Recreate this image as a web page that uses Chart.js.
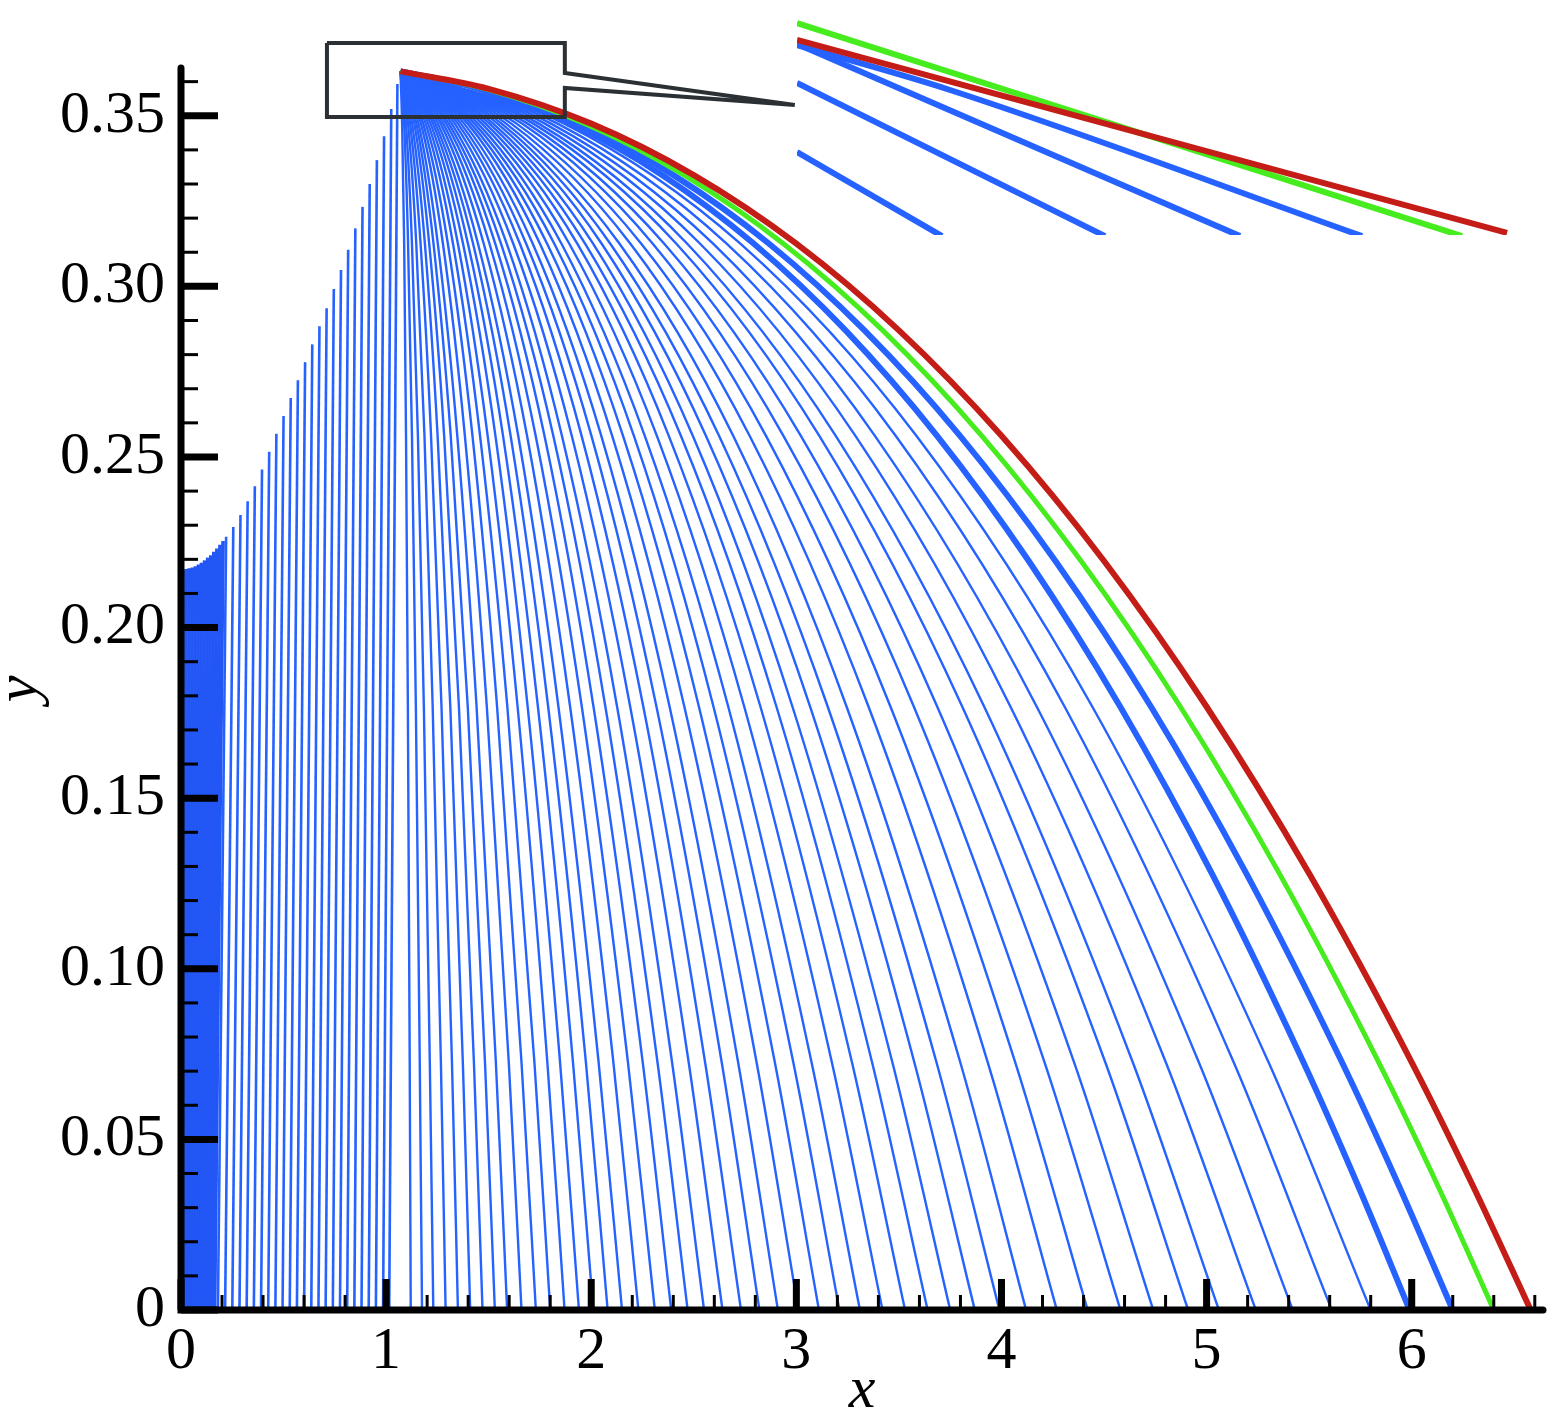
<!DOCTYPE html>
<html><head><meta charset="utf-8">
<script src="https://cdn.jsdelivr.net/npm/chart.js@4/dist/chart.umd.min.js"></script>
<style>
html,body{margin:0;padding:0;background:#fff;}
#wrap{position:relative;width:1559px;height:1417px;background:#fff;}
#main{position:absolute;left:0;top:0;width:1559px;height:1417px;}
#inset{position:absolute;left:792px;top:10px;width:730px;height:227px;}
</style></head><body>
<div id="wrap"><canvas id="main" width="1559" height="1417"></canvas><canvas id="inset" width="730" height="227"></canvas></div>
<script>
// ---------- axis ticks ----------
const xTicks = [0,1,2,3,4,5,6];
const yTicks = [0,0.05,0.10,0.15,0.20,0.25,0.30,0.35];
const xMinorTicks = [0.2,0.4,0.6,0.8,1.2,1.4,1.6,1.8,2.2,2.4,2.6,2.8,3.2,3.4,3.6,3.8,4.2,4.4,4.6,4.8,5.2,5.4,5.6,5.8,6.2,6.4,6.6];
const yMinorTicks = [0.01,0.02,0.03,0.04,0.06,0.07,0.08,0.09,0.11,0.12,0.13,0.14,0.16,0.17,0.18,0.19,0.21,0.22,0.23,0.24,0.26,0.27,0.28,0.29,0.31,0.32,0.33,0.34,0.36];

// ---------- left family (start on upper envelope, end on y = 0) ----------
const denseStartX = [0.01,0.025,0.04,0.055,0.07,0.085,0.10,0.115,0.13,0.145,0.16,0.175,0.19,0.205];
const denseStartY = [0.217,0.2172,0.2174,0.2176,0.218,0.2185,0.219,0.2197,0.2205,0.2212,0.2222,0.2232,0.2243,0.2254];
const denseEndX   = [0.008,0.02,0.032,0.044,0.056,0.068,0.08,0.092,0.104,0.116,0.128,0.14,0.152,0.164];

const leftStartX = [0.22,0.255,0.29,0.325,0.36,0.395,0.43,0.465,0.50,0.535,0.57,0.605,0.64,0.675,0.71,0.745,0.78,0.815,0.85,0.885,0.92,0.955,0.99,1.025,1.055];
const leftStartY = [0.2266,0.2295,0.233,0.237,0.2414,0.2463,0.2515,0.2568,0.262,0.2673,0.2725,0.2778,0.283,0.2883,0.2936,0.2992,0.3048,0.3107,0.317,0.3233,0.33,0.337,0.344,0.352,0.3593];
const leftEndX   = [0.18,0.215,0.25,0.285,0.32,0.355,0.39,0.425,0.46,0.495,0.53,0.565,0.60,0.635,0.67,0.705,0.74,0.775,0.81,0.845,0.88,0.915,0.95,0.985,1.015];

// ---------- fan family from the apex (x values at shared y levels) ----------
const fanLevelsY = [0.363,0.3477,0.3125,0.2562,0.1768,0.0726,0];
const fanThinX = [
[1.07,1.078,1.088,1.097,1.106,1.115,1.12],
[1.07,1.088,1.107,1.126,1.145,1.164,1.175],
[1.07,1.097,1.126,1.155,1.184,1.213,1.23],
[1.07,1.107,1.147,1.187,1.227,1.267,1.29],
[1.07,1.117,1.168,1.219,1.270,1.321,1.35],
[1.07,1.127,1.189,1.251,1.313,1.374,1.41],
[1.07,1.138,1.210,1.283,1.355,1.428,1.47],
[1.07,1.148,1.231,1.315,1.398,1.482,1.53],
[1.07,1.158,1.252,1.347,1.441,1.535,1.59],
[1.07,1.170,1.277,1.384,1.491,1.598,1.66],
[1.07,1.181,1.301,1.421,1.541,1.660,1.73],
[1.07,1.193,1.326,1.458,1.591,1.723,1.80],
[1.07,1.205,1.350,1.495,1.641,1.786,1.87],
[1.07,1.217,1.375,1.533,1.690,1.848,1.94],
[1.07,1.229,1.399,1.570,1.740,1.911,2.01],
[1.07,1.240,1.424,1.607,1.790,1.974,2.08],
[1.07,1.252,1.448,1.644,1.840,2.036,2.15],
[1.07,1.266,1.476,1.687,1.897,2.108,2.23],
[1.07,1.279,1.504,1.729,1.954,2.179,2.31],
[1.07,1.293,1.532,1.772,2.011,2.251,2.39],
[1.07,1.306,1.560,1.815,2.069,2.323,2.47],
[1.07,1.320,1.588,1.857,2.126,2.394,2.55],
[1.07,1.335,1.620,1.905,2.190,2.475,2.64],
[1.07,1.350,1.652,1.953,2.254,2.555,2.73],
[1.07,1.365,1.683,2.001,2.318,2.636,2.82],
[1.07,1.381,1.715,2.049,2.382,2.716,2.91],
[1.07,1.398,1.750,2.102,2.454,2.806,3.01],
[1.07,1.414,1.785,2.155,2.525,2.895,3.11],
[1.07,1.431,1.820,2.208,2.596,2.985,3.21],
[1.07,1.448,1.855,2.261,2.668,3.074,3.31],
[1.07,1.467,1.893,2.320,2.746,3.173,3.42],
[1.07,1.485,1.932,2.378,2.825,3.271,3.53],
[1.07,1.504,1.970,2.437,2.903,3.369,3.64],
[1.07,1.522,2.009,2.495,2.981,3.468,3.75],
[1.07,1.543,2.051,2.559,3.067,3.575,3.87],
[1.07,1.563,2.093,2.623,3.153,3.683,3.99],
[1.07,1.585,2.138,2.692,3.245,3.799,4.12],
[1.07,1.610,2.191,2.772,3.352,3.933,4.27],
[1.07,1.636,2.244,2.852,3.459,4.067,4.42],
[1.07,1.663,2.300,2.937,3.573,4.210,4.58],
[1.07,1.690,2.356,3.022,3.687,4.354,4.74],
[1.07,1.718,2.415,3.112,3.809,4.506,4.91],
[1.07,1.744,2.468,3.192,3.916,4.640,5.06],
[1.07,1.774,2.531,3.288,4.044,4.801,5.24],
[1.07,1.804,2.594,3.383,4.172,4.962,5.42],
[1.07,1.836,2.660,3.484,4.308,5.132,5.61],
[1.07,1.868,2.727,3.585,4.443,5.302,5.80]
];

// ---------- highlighted curves ----------
const specialY    = [0.363,0.3579,0.3477,0.3326,0.3125,0.2871,0.2562,0.2195,0.1768,0.1279,0.0726,0.0362,0];
const redX        = [1.07,1.50,2.00,2.50,3.00,3.50,4.00,4.50,5.00,5.50,6.00,6.30,6.58];
const greenX      = [1.07,1.486,1.970,2.453,2.937,3.421,3.904,4.388,4.872,5.355,5.839,6.129,6.40];
const blueThickAX = [1.07,1.470,1.936,2.401,2.867,3.332,3.798,4.263,4.729,5.194,5.660,5.939,6.20];
const blueThickBX = [1.07,1.454,1.900,2.347,2.793,3.240,3.686,4.133,4.579,5.026,5.472,5.740,5.99];

// ---------- zoom box with callout ----------
const zoomBoxX = [0.7115,1.8713,1.8713,2.9922,1.8713,1.8713,0.7115,0.7115];
const zoomBoxY = [0.37134,0.37134,0.36254,0.35317,0.35815,0.34965,0.34965,0.37134];

// ---------- inset (magnified view) ----------
const insetRedX   = [1.10,1.8448];   const insetRedY   = [0.37014,0.3522];
const insetGreenX = [1.10,1.7976];   const insetGreenY = [0.37172,0.3519];
const insetBlueAX = [1.10,1.2605,1.6927]; const insetBlueAY = [0.36967,0.36549,0.3519];
const insetBlueBX = [1.10,1.5647];   const insetBlueBY = [0.36977,0.3519];
const insetBlueCX = [1.10,1.4231];   const insetBlueCY = [0.36614,0.3519];
const insetBlueDX = [1.10,1.2521];   const insetBlueDY = [0.35972,0.3519];

// ---------- styling ----------
const BLUE = 'rgb(38,98,255)';
const BLUE_DENSE = 'rgb(34,86,245)';
const GREEN = 'rgb(70,236,30)';
const RED = 'rgb(196,28,22)';
const BOX = '#2b3034';
const SERIF = "'Liberation Serif','Times New Roman',serif";

const toPts = (xs, ys) => xs.map((x, i) => ({x, y: ys[i]}));

function lineDs(data, color, width, extra) {
  return Object.assign({data, showLine: true, borderColor: color, borderWidth: width,
    pointRadius: 0, pointHoverRadius: 0, fill: false, tension: 0}, extra || {});
}
const mono = {cubicInterpolationMode: 'monotone'};

const datasets = [];
// top-most first (Chart.js draws dataset 0 last)
datasets.push(lineDs(toPts(zoomBoxX, zoomBoxY), BOX, 4, {clip: false}));
datasets.push(lineDs(toPts(redX, specialY), RED, 6, mono));
datasets.push(lineDs(toPts(greenX, specialY), GREEN, 5, mono));
datasets.push(lineDs(toPts(blueThickAX, specialY), BLUE, 6, mono));
datasets.push(lineDs(toPts(blueThickBX, specialY), BLUE, 6, mono));
fanThinX.forEach(row => datasets.push(lineDs(toPts(row, fanLevelsY), BLUE, 2.4, mono)));
leftStartX.forEach((xs, i) => datasets.push(lineDs([{x: xs, y: leftStartY[i]}, {x: leftEndX[i], y: 0}], BLUE, 2.6)));
denseStartX.forEach((xs, i) => datasets.push(lineDs([{x: xs, y: denseStartY[i]}, {x: denseEndX[i], y: 0}], BLUE_DENSE, 3.6)));

const axesPlugin = {
  id: 'frameAxes',
  afterDatasetsDraw(chart) {
    const {ctx} = chart;
    const sx = chart.scales.x, sy = chart.scales.y;
    const x0 = sx.getPixelForValue(0), y0 = sy.getPixelForValue(0);
    const xEnd = sx.getPixelForValue(sx.max), yTop = sy.getPixelForValue(sy.max);
    ctx.save();
    ctx.strokeStyle = '#000';
    ctx.lineCap = 'butt';
    const seg = (a, b, c, d, w) => { ctx.lineWidth = w; ctx.beginPath(); ctx.moveTo(a, b); ctx.lineTo(c, d); ctx.stroke(); };
    xMinorTicks.forEach(v => { const p = sx.getPixelForValue(v); seg(p, y0, p, y0 - 15, 3); });
    xTicks.forEach(v => { const p = sx.getPixelForValue(v); seg(p, y0, p, y0 - 31, 7); });
    yMinorTicks.forEach(v => { const p = sy.getPixelForValue(v); seg(x0, p, x0 + 17, p, 3); });
    yTicks.forEach(v => { const p = sy.getPixelForValue(v); seg(x0, p, x0 + 37, p, 7); });
    ctx.lineWidth = 7;
    ctx.lineCap = 'round';
    ctx.lineJoin = 'miter';
    ctx.beginPath(); ctx.moveTo(x0, yTop); ctx.lineTo(x0, y0); ctx.lineTo(xEnd, y0); ctx.stroke();
    ctx.restore();
  }
};

new Chart(document.getElementById('main'), {
  type: 'scatter',
  data: {datasets},
  options: {
    responsive: false, devicePixelRatio: 1, animation: false, events: [],
    layout: {padding: {left: 0, right: 16, top: 68, bottom: 0}},
    plugins: {legend: {display: false}, tooltip: {enabled: false}},
    scales: {
      x: {
        type: 'linear', min: 0, max: 6.64,
        afterFit: s => { s.height = 107; },
        afterBuildTicks: s => { s.ticks = xTicks.map(v => ({value: v})); },
        grid: {display: false, drawTicks: false}, border: {display: false},
        ticks: {color: '#000', padding: 6, maxRotation: 0, autoSkip: false,
          font: {family: SERIF, size: 60}, callback: v => String(v)},
        title: {display: true, text: 'x', color: '#000',
          font: {family: SERIF, size: 60, style: 'italic', lineHeight: 1}, padding: {top: 0, bottom: -4}}
      },
      y: {
        type: 'linear', min: 0, max: 0.364,
        afterFit: s => { s.width = 181; },
        afterBuildTicks: s => { s.ticks = yTicks.map(v => ({value: v})); },
        grid: {display: false, drawTicks: false}, border: {display: false},
        ticks: {color: '#000', padding: 16, autoSkip: false,
          font: {family: SERIF, size: 60}, callback: v => v === 0 ? '0' : v.toFixed(2)},
        title: {display: true, text: 'y', color: '#000',
          font: {family: SERIF, size: 60, style: 'italic', lineHeight: 1}, padding: {top: -10, bottom: 0}}
      }
    }
  },
  plugins: [axesPlugin]
});

// ---------- inset chart ----------
const insetSets = [
  lineDs(toPts(insetRedX, insetRedY), RED, 6, {clip: 0}),
  lineDs(toPts(insetGreenX, insetGreenY), GREEN, 6, {clip: 0}),
  lineDs(toPts(insetBlueAX, insetBlueAY), BLUE, 6, {clip: 0, cubicInterpolationMode: 'monotone'}),
  lineDs(toPts(insetBlueBX, insetBlueBY), BLUE, 6, {clip: 0}),
  lineDs(toPts(insetBlueCX, insetBlueCY), BLUE, 6, {clip: 0}),
  lineDs(toPts(insetBlueDX, insetBlueDY), BLUE, 6, {clip: 0})
];
new Chart(document.getElementById('inset'), {
  type: 'scatter',
  data: {datasets: insetSets},
  options: {
    responsive: false, devicePixelRatio: 1, animation: false, events: [],
    layout: {padding: {left: 5, right: 10, top: 10, bottom: 2}},
    plugins: {legend: {display: false}, tooltip: {enabled: false}},
    scales: {
      x: {type: 'linear', min: 1.10, max: 1.85, display: false},
      y: {type: 'linear', min: 0.352, max: 0.372, display: false}
    }
  }
});
</script>
</body></html>
